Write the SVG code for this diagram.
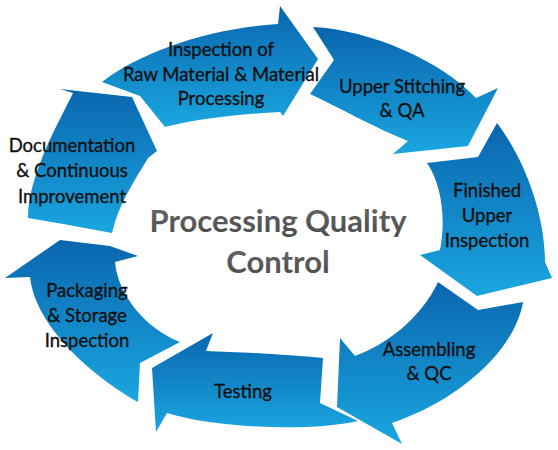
<svg xmlns="http://www.w3.org/2000/svg" width="558" height="450" viewBox="0 0 558 450">
<defs>
<linearGradient id="blue" x1="0" y1="0" x2="0" y2="1">
<stop offset="0" stop-color="#0a66ae"/>
<stop offset="1" stop-color="#1aa6e0"/>
</linearGradient>
<linearGradient id="gray" x1="0" y1="0" x2="0" y2="1">
<stop offset="0" stop-color="#6a6a6a"/>
<stop offset="1" stop-color="#4a4a4a"/>
</linearGradient>
</defs>
<style>
.arrow{fill:url(#blue);}
.lbl{font-family:Lato,"Liberation Sans",sans-serif;font-size:18.5px;fill:#111;stroke:#111;stroke-width:0.35;text-anchor:middle;}
.title{font-family:Lato,"Liberation Sans",sans-serif;font-size:31px;font-weight:bold;fill:url(#gray);text-anchor:middle;}
</style>
<rect width="558" height="450" fill="#fff"/>
<g id="inspection">
<path class="arrow" d="M102,82 C140,52 210,28 278,24 L280,6 L318,59 L283,116 L280,112 C240,114 195,119 165,127 L140,96 Z"/>
<text class="lbl" x="221" y="56">Inspection of</text>
<text class="lbl" x="221" y="81">Raw Material &amp; Material</text>
<text class="lbl" x="221" y="105">Processing</text>
</g>
<g id="upper-stitching">
<path class="arrow" d="M313,27 C370,30 440,60 476,98 L498,88 L468,146 L393,154 L408,141 C375,128 340,108 310,94 L334,60 Z"/>
<text class="lbl" x="402" y="93">Upper Stitching</text>
<text class="lbl" x="402" y="117">&amp; QA</text>
</g>
<g id="finished-upper">
<path class="arrow" d="M497,123 C525,160 545,215 545,262 L552,278 L477,296 L420,255 L440,250 C446,220 442,185 427,163 L478,157 Z"/>
<text class="lbl" x="487" y="197">Finished</text>
<text class="lbl" x="487" y="222">Upper</text>
<text class="lbl" x="487" y="247">Inspection</text>
</g>
<g id="assembling">
<path class="arrow" d="M523,302 C515,350 460,400 392,423 L402,444 L337,407 L340,338 L355,356 C385,345 420,320 438,282 L478,310 Z"/>
<text class="lbl" x="429" y="356">Assembling</text>
<text class="lbl" x="429" y="380">&amp; QC</text>
</g>
<g id="testing">
<path class="arrow" d="M358,421 C310,432 215,428 167,413 L156,432 L152,368 L213,333 L206,351 C240,352 290,355 323,358 L320,403 Z"/>
<text class="lbl" x="243" y="398">Testing</text>
</g>
<g id="packaging">
<path class="arrow" d="M138,402 C90,375 35,325 30,277 L5,278 L60,240 L110,246 L138,256 L115,262 C118,295 145,328 180,342 L140,363 Z"/>
<text class="lbl" x="87" y="297">Packaging</text>
<text class="lbl" x="87" y="322">&amp; Storage</text>
<text class="lbl" x="87" y="347">Inspection</text>
</g>
<g id="documentation">
<path class="arrow" d="M112,233 L63,224 L28,218 C28,175 60,120 73,93 L60,89 L132,97 L157,151 L148,158 C135,180 118,205 112,233 Z"/>
<text class="lbl" x="72" y="152">Documentation</text>
<text class="lbl" x="72" y="177">&amp; Continuous</text>
<text class="lbl" x="72" y="203">Improvement</text>
</g>
<g id="center">
<text class="title" x="278" y="232">Processing Quality</text>
<text class="title" x="278" y="273">Control</text>
</g>
</svg>
